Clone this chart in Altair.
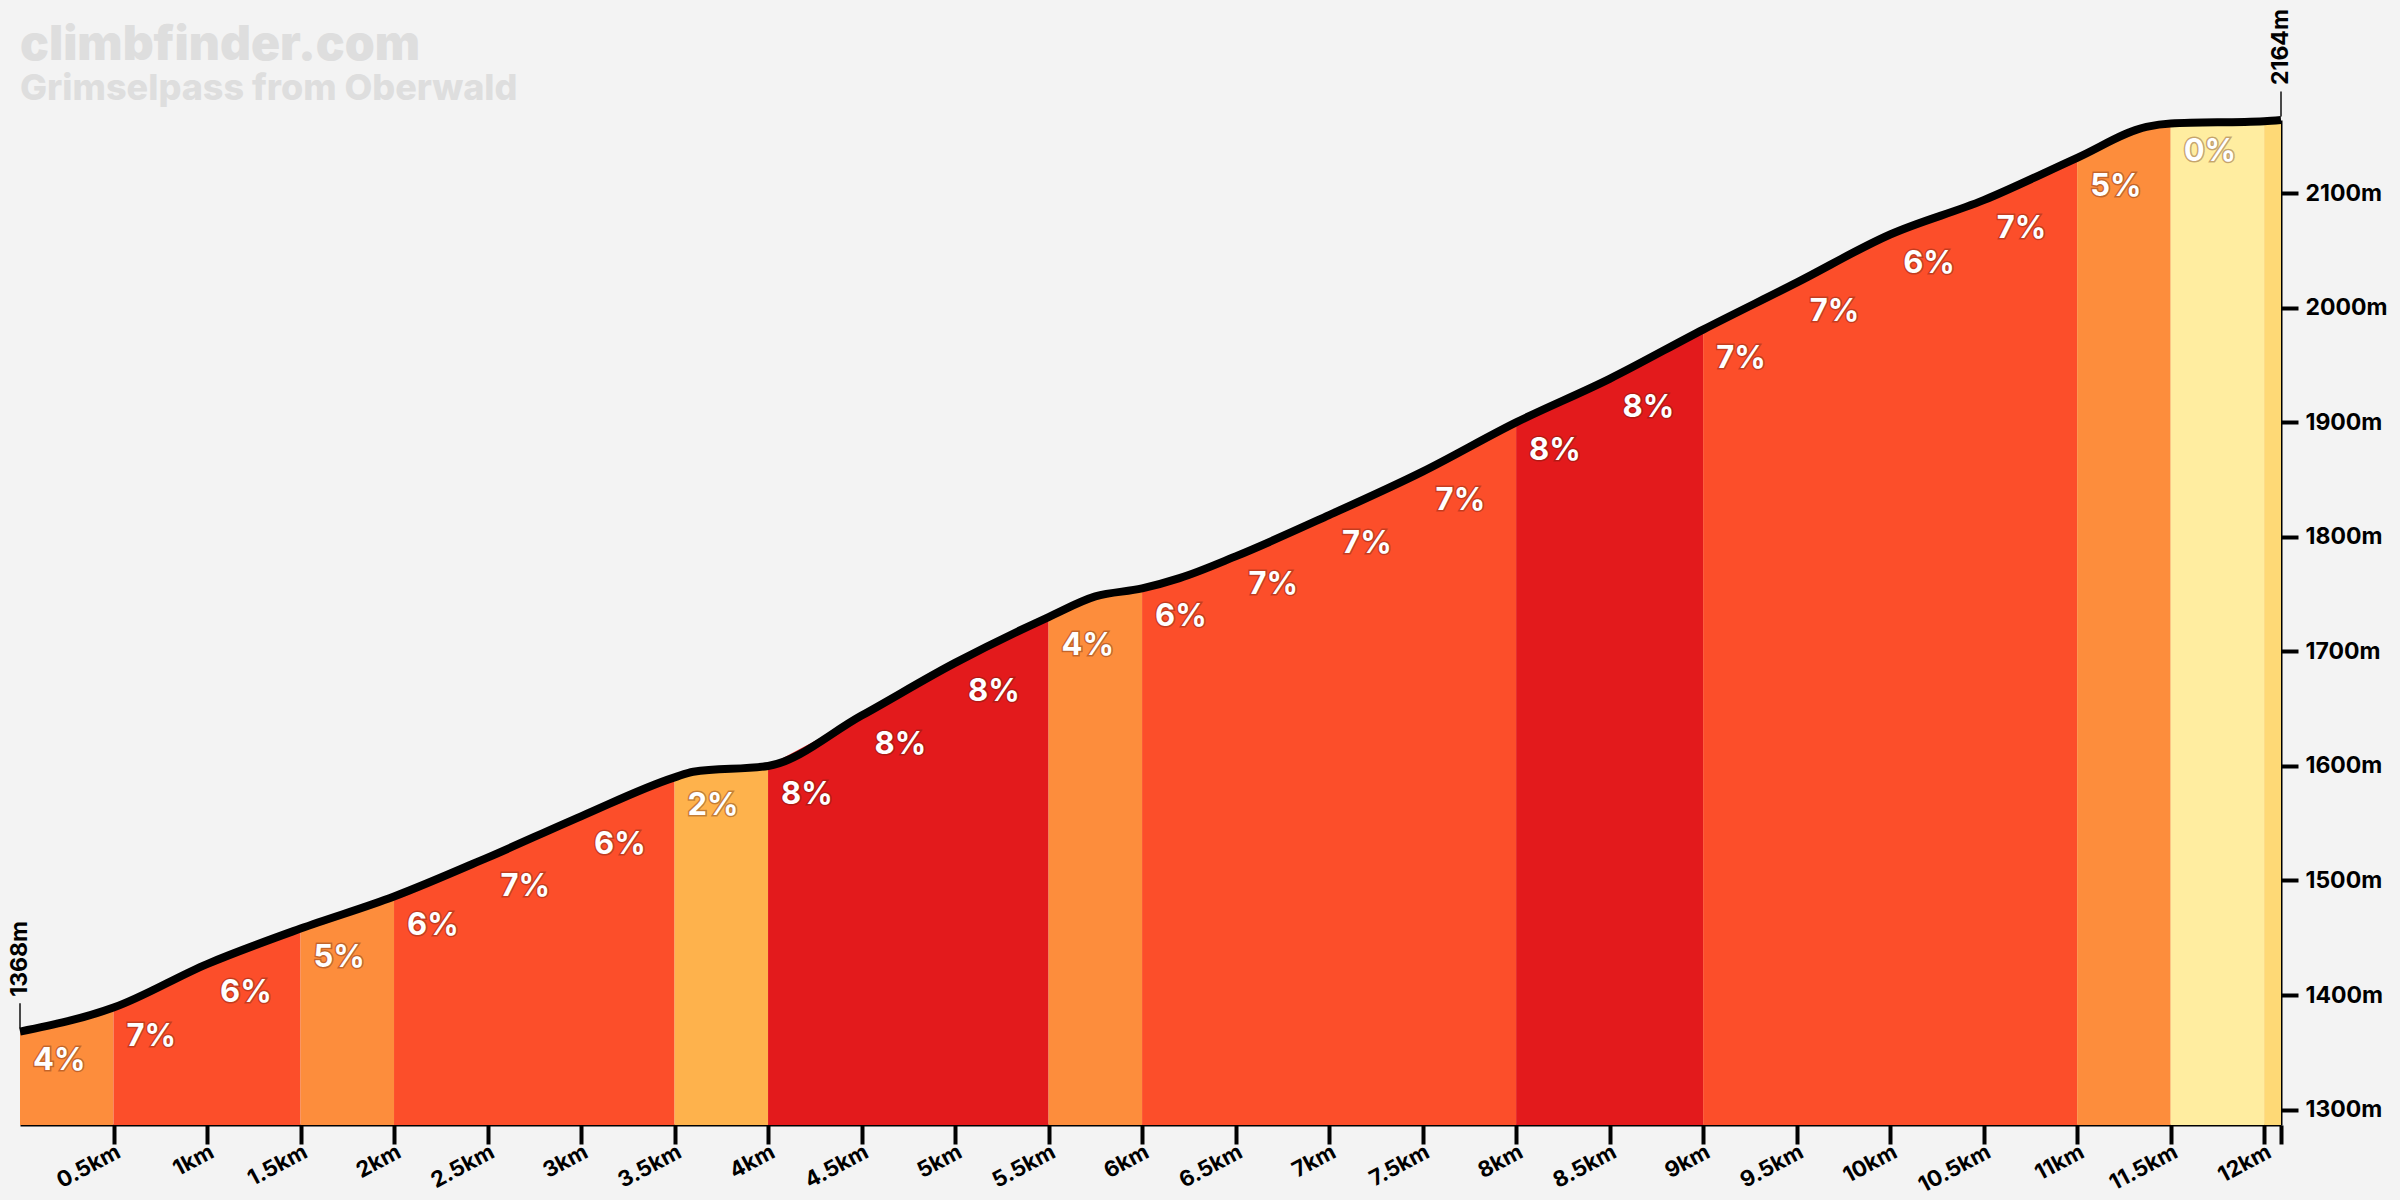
import altair as alt
import pandas as pd

# ---- data ----
profile_km = [0.0, 0.5, 1.0, 1.5, 2.0, 2.5, 3.0, 3.5, 3.6, 4.0, 4.5, 5.0, 5.5, 5.75, 6.0,
              6.2, 6.5, 7.0, 7.5, 8.0, 8.5, 9.0, 9.5, 10.0, 10.5, 11.0, 11.37, 11.5, 12.0, 12.09]
profile_m = [1368, 1389, 1427, 1458, 1486, 1520, 1556, 1590, 1595, 1600, 1644, 1690, 1730, 1748, 1755,
             1764, 1783, 1819, 1857, 1900, 1938, 1981, 2022, 2064, 2094, 2131, 2158, 2161, 2163, 2164]

seg_start = [0.0, 0.5, 1.0, 1.5, 2.0, 2.5, 3.0, 3.5, 4.0, 4.5, 5.0, 5.5, 6.0, 6.5, 7.0, 7.5,
             8.0, 8.5, 9.0, 9.5, 10.0, 10.5, 11.0, 11.5, 12.0]
seg_end = [0.5, 1.0, 1.5, 2.0, 2.5, 3.0, 3.5, 4.0, 4.5, 5.0, 5.5, 6.0, 6.5, 7.0, 7.5, 8.0,
           8.5, 9.0, 9.5, 10.0, 10.5, 11.0, 11.5, 12.0, 12.09]
seg_grade = [4, 7, 6, 5, 6, 7, 6, 2, 8, 8, 8, 4, 6, 7, 7, 7, 8, 8, 7, 7, 6, 7, 5, 0, 1]
seg_label = ["4%", "7%", "6%", "5%", "6%", "7%", "6%", "2%", "8%", "8%", "8%", "4%", "6%", "7%",
             "7%", "7%", "8%", "8%", "7%", "7%", "6%", "7%", "5%", "0%", ""]

grade_values = [0, 1, 2, 3, 4, 5, 6, 7, 8]
grade_colors = ["#ffeda0", "#fed976", "#feb24c", "#fd8d3c", "#fd8d3c", "#fd8d3c",
                "#fc4e2a", "#fc4e2a", "#e31a1c"]

y_ticks = [1300, 1400, 1500, 1600, 1700, 1800, 1900, 2000, 2100]
x_ticks = [0.5, 1, 1.5, 2, 2.5, 3, 3.5, 4, 4.5, 5, 5.5, 6, 6.5, 7, 7.5, 8, 8.5, 9, 9.5,
           10, 10.5, 11, 11.5, 12, 12.09]

site_title = "climbfinder.com"
climb_title = "Grimselpass from Oberwald"

total_km = 12.09
y_min, y_max = 1286.5, 2164

# ---- tables ----
color_of = dict(zip(grade_values, grade_colors))
elev_at = dict(zip(profile_km, profile_m))

# merge consecutive segments of the same colour into runs (avoids seams)
runs = []
for s, e, g in zip(seg_start, seg_end, seg_grade):
    c = color_of[g]
    if runs and runs[-1][2] == c:
        runs[-1][1] = e
    else:
        runs.append([s, e, c])

rows = []
for i, (s, e, c) in enumerate(runs):
    for k, m in zip(profile_km, profile_m):
        if s - 1e-9 <= k <= e + 1e-9:
            rows.append({"seg": i, "km": k, "m": m, "color": c})
area_df = pd.DataFrame(rows)
profile_df = pd.DataFrame({"km": profile_km, "m": profile_m})
label_df = pd.DataFrame({"km": seg_start, "m": [elev_at[s] for s in seg_start], "label": seg_label})
label_df = label_df[label_df["label"] != ""]
end_df = pd.DataFrame({"km": [profile_km[0], profile_km[-1]], "m": [profile_m[0], profile_m[-1]]})
end_df["text"] = end_df["m"].astype(str) + "m"

FONT = "Inter"

X = alt.X("km:Q",
          scale=alt.Scale(domain=[0, total_km], nice=False, zero=False),
          axis=alt.Axis(title=None, values=x_ticks, grid=False,
                        labelExpr="datum.value > 12.05 ? '' : datum.value + 'km'",
                        labelAngle=332, labelAlign="right", labelBaseline="top",
                        labelPadding=-3, labelOverlap=False, labelFlush=False,
                        labelFont=FONT, labelFontSize=22, labelFontWeight="bold",
                        labelColor="black", domainColor="black", domainWidth=2,
                        tickColor="black", tickWidth=4, tickSize=19))
Y = alt.Y("m:Q",
          scale=alt.Scale(domain=[y_min, y_max], nice=False, zero=False),
          axis=alt.Axis(title=None, orient="right", values=y_ticks, grid=False,
                        labelExpr="datum.value + 'm'", labelPadding=7,
                        labelFont=FONT, labelFontSize=23, labelFontWeight="bold",
                        labelColor="black", domainColor="black", domainWidth=2,
                        tickColor="black", tickWidth=4, tickSize=17))

areas = alt.Chart(area_df).mark_area(interpolate="monotone").encode(
    x=X, y=Y, y2=alt.datum(y_min),
    color=alt.Color("color:N", scale=None),
    detail="seg:N",
)

line = alt.Chart(profile_df).mark_line(interpolate="monotone", color="black", strokeWidth=8).encode(x=X, y=Y)

ticks = alt.Chart(end_df).mark_tick(orient="vertical", size=25, thickness=2, color="black",
                                    yOffset=-16).encode(x=X, y=Y)

outline = alt.Chart(label_df).mark_text(
    align="left", baseline="middle", dx=13, dy=29, font=FONT, fontSize=31, fontWeight="bold",
    fill="#5a1a0a", fillOpacity=0.35, stroke="#5a1a0a", strokeWidth=3, strokeOpacity=0.35,
).encode(x=X, y=Y, text="label:N")

labels = alt.Chart(label_df).mark_text(
    align="left", baseline="middle", dx=13, dy=29, font=FONT, fontSize=31, fontWeight="bold",
    color="white",
).encode(x=X, y=Y, text="label:N")

end_text = alt.Chart(end_df).mark_text(
    angle=270, align="left", baseline="middle", dx=35, font=FONT, fontSize=23,
    fontWeight="bold", color="black",
).encode(x=X, y=Y, text="text:N")

t1 = alt.Chart(pd.DataFrame({"t": [site_title]})).mark_text(
    align="left", baseline="alphabetic", font=FONT, fontSize=48, fontWeight=900, color="#dedede",
).encode(x=alt.value(0), y=alt.value(-60), text="t:N")

t2 = alt.Chart(pd.DataFrame({"t": [climb_title]})).mark_text(
    align="left", baseline="alphabetic", font=FONT, fontSize=36, fontWeight=800, color="#dedede",
).encode(x=alt.value(0), y=alt.value(-20), text="t:N")

chart = alt.layer(areas, line, ticks, outline, labels, end_text, t1, t2).properties(
    width=2261, height=1005,
    padding={"left": 20, "top": 120, "right": 119, "bottom": 75},
    autosize="none",
    background="#f3f3f3",
).configure_view(strokeWidth=0)

chart.save("out.html", embed_options={"renderer": "svg", "actions": False})
